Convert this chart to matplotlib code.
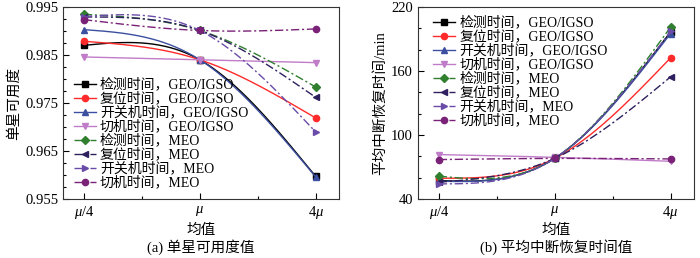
import numpy as np
import matplotlib
matplotlib.use("Agg")
import matplotlib.pyplot as plt
from matplotlib.ticker import MultipleLocator

plt.rcParams['font.family'] = ['Liberation Serif', 'Noto Sans CJK SC']
plt.rcParams['mathtext.fontset'] = 'custom'
plt.rcParams['mathtext.it'] = 'Liberation Serif:italic'
plt.rcParams['mathtext.rm'] = 'Liberation Serif'

x_labels = [r'$\mu$/4', r'$\mu$', r'4$\mu$']
series_names = ['检测时间，GEO/IGSO', '复位时间，GEO/IGSO', '开关机时间，GEO/IGSO', '切机时间，GEO/IGSO',
                '检测时间，MEO', '复位时间，MEO', '开关机时间，MEO', '切机时间，MEO']

avail_det_geo = [0.9870, 0.9840, 0.9597]
avail_rst_geo = [0.98785, 0.9840, 0.97188]
avail_sw_geo = [0.99028, 0.9840, 0.9596]
avail_cut_geo = [0.98458, 0.9840, 0.9834]
avail_det_meo = [0.99347, 0.9901, 0.97833]
avail_rst_meo = [0.99292, 0.9901, 0.97618]
avail_sw_meo = [0.9930, 0.9901, 0.96896]
avail_cut_meo = [0.99236, 0.9901, 0.99042]

mttr_det_geo = [57.2, 78.0, 196.6]
mttr_rst_geo = [59.4, 78.0, 172.2]
mttr_sw_geo = [56.6, 78.0, 195.0]
mttr_cut_geo = [81.6, 79.0, 75.3]
mttr_det_meo = [61.3, 78.0, 201.0]
mttr_rst_meo = [55.6, 78.0, 154.4]
mttr_sw_meo = [54.1, 78.0, 197.0]
mttr_cut_meo = [76.9, 78.0, 77.5]

avail = [avail_det_geo, avail_rst_geo, avail_sw_geo, avail_cut_geo,
         avail_det_meo, avail_rst_meo, avail_sw_meo, avail_cut_meo]
mttr = [mttr_det_geo, mttr_rst_geo, mttr_sw_geo, mttr_cut_geo,
        mttr_det_meo, mttr_rst_meo, mttr_sw_meo, mttr_cut_meo]

colors = ['#000000', '#ff2a2a', '#3c4fa0', '#c07cc8', '#2f7f2f', '#2e1f5e', '#6a4ca8', '#7a2277']
markers = ['s', 'o', '^', 'v', 'D', '<', '>', 'o']
dashdot = (0, (6, 2, 1.5, 2))
styles = ['-'] * 4 + [dashdot] * 4


def natural_spline(xk, yk, xs):
    xk = np.asarray(xk, float)
    yk = np.asarray(yk, float)
    n = len(xk)
    h = np.diff(xk)
    A = np.zeros((n, n))
    r = np.zeros(n)
    A[0, 0] = 1
    A[-1, -1] = 1
    for i in range(1, n - 1):
        A[i, i - 1] = h[i - 1]
        A[i, i] = 2 * (h[i - 1] + h[i])
        A[i, i + 1] = h[i]
        r[i] = 6 * ((yk[i + 1] - yk[i]) / h[i] - (yk[i] - yk[i - 1]) / h[i - 1])
    M = np.linalg.solve(A, r)
    idx = np.clip(np.searchsorted(xk, xs) - 1, 0, n - 2)
    x0 = xk[idx]
    x1 = xk[idx + 1]
    hh = h[idx]
    a = (x1 - xs) / hh
    b = (xs - x0) / hh
    return (M[idx] * (x1 - xs) ** 3 / (6 * hh) + M[idx + 1] * (xs - x0) ** 3 / (6 * hh)
            + (yk[idx] - M[idx] * hh ** 2 / 6) * a + (yk[idx + 1] - M[idx + 1] * hh ** 2 / 6) * b)


fig = plt.figure(figsize=(7.0, 2.58), dpi=100)
ax1 = fig.add_axes([0.090, 0.229, 0.394, 0.744])
ax2 = fig.add_axes([0.597, 0.229, 0.394, 0.744])

xd = np.arange(3)
xs = np.linspace(0, 2, 201)
mk_idx = [0, 100, 200]


def draw(ax, data):
    for ys, c, m, ls, name in zip(data, colors, markers, styles, series_names):
        ax.plot(xs, natural_spline(xd, ys, xs), color=c, linestyle=ls, linewidth=1.0,
                marker=m, markevery=mk_idx, markersize=4.5 if m != 'D' else 4.0, label=name)
    ax.set_xlim(-0.18, 2.2)
    ax.set_xticks(xd)
    ax.set_xticklabels(x_labels)
    ax.xaxis.set_minor_locator(MultipleLocator(0.5))
    ax.tick_params(which='both', direction='in', top=False, right=False, labelsize=10.5)
    ax.tick_params(which='major', length=4, width=0.8)
    ax.tick_params(which='minor', length=2.5, width=0.8)
    for s in ax.spines.values():
        s.set_linewidth(0.8)
        s.set_color('#333333')
    ax.set_xlabel('均值', fontsize=10.5, labelpad=2)


draw(ax1, avail)
ax1.set_ylim(0.955, 0.995)
ax1.set_yticks([0.955, 0.965, 0.975, 0.985, 0.995])
ax1.set_yticklabels(['0.955', '0.965', '0.975', '0.985', '0.995'])
ax1.yaxis.set_minor_locator(MultipleLocator(0.0025))
ax1.set_ylabel('单星可用度', fontsize=10.5, labelpad=3)
ax1.legend(loc='upper left', bbox_to_anchor=(0.018, 0.661), frameon=False, fontsize=10,
           handlelength=1.6, handletextpad=0.3, labelspacing=0.02, borderaxespad=0.0)

draw(ax2, mttr)
ax2.set_ylim(40, 220)
ax2.set_yticks([40, 100, 160, 220])
ax2.yaxis.set_minor_locator(MultipleLocator(20))
ax2.set_ylabel('平均中断恢复时间/min', fontsize=10.5, labelpad=3)
ax2.legend(loc='upper left', bbox_to_anchor=(0.035, 0.984), frameon=False, fontsize=10,
           handlelength=1.6, handletextpad=0.3, labelspacing=0.02, borderaxespad=0.0)

fig.text(0.287, 0.022, '(a) 单星可用度值', ha='center', fontsize=10.5)
fig.text(0.794, 0.022, '(b) 平均中断恢复时间值', ha='center', fontsize=10.5)

fig.savefig('out.png', dpi=100)
